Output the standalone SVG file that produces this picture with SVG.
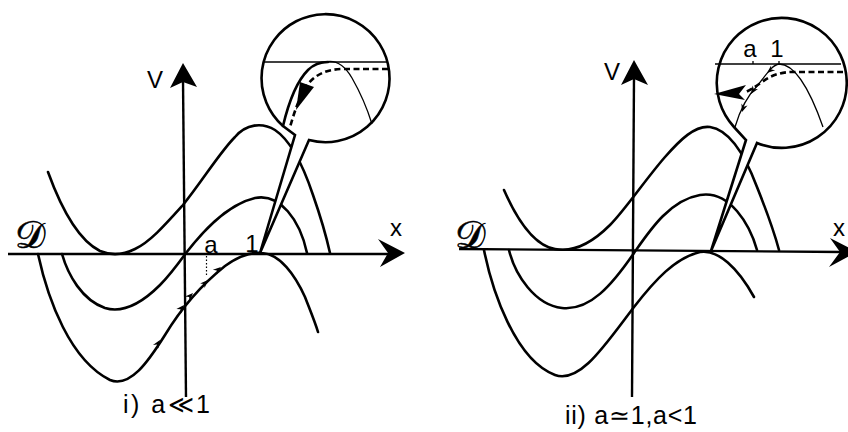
<svg xmlns="http://www.w3.org/2000/svg" width="848" height="432" viewBox="0 0 848 432">
<style>
.c{fill:none;stroke:#000;stroke-width:2.6;stroke-linecap:round;stroke-linejoin:round}
.ax{fill:none;stroke:#000;stroke-width:2.4}
.thin{fill:none;stroke:#000;stroke-width:1.3}
.dash{fill:none;stroke:#000;stroke-width:2.6;stroke-dasharray:6 3.5}
.lens{fill:#fff;stroke:#000;stroke-width:2.6;stroke-linejoin:miter}
.hd{fill:#000;stroke:none}
text{font-family:"Liberation Sans",Arial,sans-serif;fill:#000}
.lbl{font-size:24px}
.cap{font-size:25px}
.scr{font-family:"DejaVu Sans","Liberation Serif",serif;font-size:38px;stroke:#000;stroke-width:0.6}
</style>
<defs>
<path id="barb" d="M0,0 L-8,-3.2 L-5.5,0 L-8,3.2 Z"/>
</defs>
<rect width="848" height="432" fill="#fff"/>

<g id="panel-i">
  <g id="axes-i">
    <line class="ax" x1="8" y1="254" x2="390" y2="254"/>
    <polygon class="hd" points="405,253 378,239 388,253 380,267"/>
    <line class="ax" x1="183" y1="80" x2="186" y2="397"/>
    <polygon class="hd" points="183,63 170,88 183,82 197,87"/>
    <line x1="206.5" y1="256" x2="206.5" y2="277" stroke="#000" stroke-width="1.2" stroke-dasharray="1.5 2"/>
  </g>
  <g id="curves-i">
    <path class="c" d="M48,172 C60,205 78,240 100,251 C112,256 125,254 135,249 C150,242 165,225 183,205 C203,180 220,152 235,137 C246,124 262,122 275,130 C290,140 303,165 313,195 C320,215 326,235 330,253"/>
    <path class="c" d="M62,254 C68,275 82,300 105,308 C125,314 145,300 160,285 C170,275 178,264 186,253 C200,235 225,205 255,198 C280,193 300,220 307,253"/>
    <path class="c" d="M38,254 C48,300 70,360 110,380 C130,388 148,362 165,335 C185,302 205,282 225,266 C240,255 252,252 262,253 C280,254 295,275 305,297 C310,310 315,322 318,332"/>
    <use href="#barb" transform="translate(221,267) rotate(-40)"/>
    <use href="#barb" transform="translate(208,280) rotate(-45)"/>
    <use href="#barb" transform="translate(193,293) rotate(-45)"/>
    <use href="#barb" transform="translate(184,305) rotate(-50)"/>
    <use href="#barb" transform="translate(160,340) rotate(-57)"/>
  </g>
  <g id="lens-i">
    <path class="lens" d="M283,126 A64,64 0 1 1 309,140 L260,253 L295,135 Z"/>
    <line class="thin" x1="264" y1="62" x2="388" y2="62"/>
    <path class="thin" d="M322,63 C335,58 345,66 352,78 C360,92 367,108 372,124"/>
    <path class="c" d="M283,126 C288,105 296,82 308,70 C314,64 320,62 328,62"/>
    <path class="dash" d="M388,69 L343,69 C328,69 316,74 308,84 C300,95 295,110 290,127"/>
    <polygon class="hd" points="300,82 314,87 296,110"/>
  </g>
  <g id="labels-i">
    <text class="lbl" x="155" y="88" text-anchor="middle">V</text>
    <text class="lbl" x="396" y="236" text-anchor="middle">x</text>
    <text class="scr" x="30" y="248" text-anchor="middle">𝒟</text>
    <text class="lbl" x="211" y="253" text-anchor="middle">a</text>
    <text class="lbl" x="252" y="252" text-anchor="middle">1</text>
    <text class="cap" x="123" y="413" textLength="87" lengthAdjust="spacing">i) a≪1</text>
  </g>
</g>

<g id="panel-ii">
  <g id="axes-ii">
    <line class="ax" x1="459" y1="249" x2="842" y2="252"/>
    <polygon class="hd" points="857,252 830,238 840,252 829,267"/>
    <line class="ax" x1="634" y1="76" x2="632" y2="397"/>
    <polygon class="hd" points="634,60 621,85 634,79 648,85"/>
  </g>
  <g id="curves-ii">
    <path class="c" d="M504,190 C515,215 532,245 555,249 C575,253 595,240 610,225 C625,210 645,180 665,157 C680,140 695,125 710,127 C730,130 745,155 757,187 C767,212 775,235 779,250"/>
    <path class="c" d="M509,250 C515,275 535,305 562,308 C590,311 612,285 634,253 C650,230 670,200 700,195 C730,190 750,225 757,250"/>
    <path class="c" d="M484,250 C492,290 515,360 555,375 C580,384 605,345 634,307 C655,280 675,258 700,252 C718,249 738,268 754,297"/>
  </g>
  <g id="lens-ii">
    <path class="lens" d="M734,127 A65,65 0 1 1 757,143 L711,251 L746,140 Z"/>
    <line class="thin" x1="715" y1="64" x2="841" y2="64"/>
    <line class="thin" x1="753" y1="61" x2="753" y2="64"/>
    <line class="thin" x1="779" y1="61" x2="779" y2="64"/>
    <path class="thin" d="M735,127 C740,110 748,95 758,85 C766,75 772,65 779,64 C795,64 810,90 823,127"/>
    <path class="dash" d="M843,72 L792,72 C780,72 770,76 762,82 C755,87 750,90 744,93"/>
    <polygon class="hd" points="714,94 746,85 739,94 745,100"/>
    <use href="#barb" transform="translate(767,73) rotate(140)"/>
    <use href="#barb" transform="translate(751,94) rotate(122)"/>
    <use href="#barb" transform="translate(742,112) rotate(108)"/>
  </g>
  <g id="labels-ii">
    <text class="lbl" x="612" y="80" text-anchor="middle">V</text>
    <text class="lbl" x="833" y="236">x</text>
    <text class="scr" x="470" y="248" text-anchor="middle">𝒟</text>
    <text class="lbl" x="750" y="57" text-anchor="middle">a</text>
    <text class="lbl" x="777" y="57" text-anchor="middle">1</text>
    <text class="cap" x="565" y="424" textLength="132" lengthAdjust="spacing">ii) a≃1,a&lt;1</text>
  </g>
</g>
</svg>
